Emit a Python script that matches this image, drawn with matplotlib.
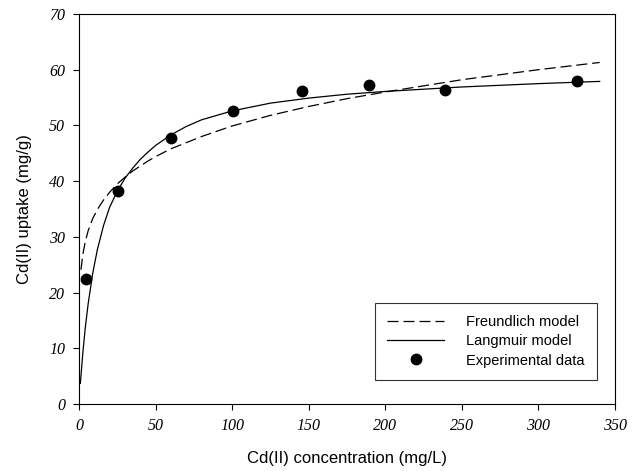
import matplotlib
matplotlib.use("Agg")
import matplotlib.pyplot as plt

# experimental points
conc_exp = [4.6, 25.3, 60.3, 100.6, 145.8, 189.4, 239.0, 325.5]
uptake_exp = [22.4, 38.3, 47.8, 52.5, 56.2, 57.2, 56.3, 58.0]

# model curves
conc_freundlich = [1.3, 2.5, 4, 6, 9, 12, 16, 20, 25, 30, 35, 40, 45, 50, 60,
                   70, 80, 100, 125, 150, 175, 200, 250, 300, 340]
uptake_freundlich = [24.1, 26.8, 29.0, 31.1, 33.3, 34.9, 36.6, 38.0, 39.5, 40.7,
                     41.8, 42.7, 43.6, 44.4, 45.8, 46.9, 48.0, 49.9, 51.8, 53.4,
                     54.8, 56.0, 58.2, 60.0, 61.3]

conc_langmuir = [0.9, 2.5, 4, 6, 9, 12, 16, 20, 25, 30, 35, 40, 45, 50, 60,
                 70, 80, 100, 125, 150, 175, 200, 250, 300, 340]
uptake_langmuir = [3.7, 9.1, 13.4, 18.0, 23.5, 27.7, 32.0, 35.3, 38.2, 40.5,
                   42.3, 43.9, 45.2, 46.4, 48.3, 49.8, 51.0, 52.6, 54.0, 54.9,
                   55.6, 56.1, 56.9, 57.5, 57.9]

x_ticks = [0, 50, 100, 150, 200, 250, 300, 350]
y_ticks = [0, 10, 20, 30, 40, 50, 60, 70]

plt.rcParams["lines.scale_dashes"] = False

fig = plt.figure(figsize=(6.4, 4.71), dpi=100)
ax = fig.add_axes([0.1234, 0.1423, 0.8375, 0.828])

ax.plot(conc_freundlich, uptake_freundlich, color="black", lw=0.9,
        dashes=(8, 3.5), label="Freundlich model")
ax.plot(conc_langmuir, uptake_langmuir, color="black", lw=0.9,
        label="Langmuir model")
ax.plot(conc_exp, uptake_exp, "o", color="black", ms=7.5, ls="none",
        label="Experimental data")

ax.set_xlim(0, 350)
ax.set_ylim(0, 70)
ax.set_xticks(x_ticks)
ax.set_yticks(y_ticks)
ax.tick_params(direction="out", length=4, width=0.8, top=False, right=False,
               pad=6)
for lbl in ax.get_xticklabels() + ax.get_yticklabels():
    lbl.set_family("Liberation Serif")
    lbl.set_style("italic")
    lbl.set_fontsize(11.5)
for s in ax.spines.values():
    s.set_linewidth(0.8)

ax.set_xlabel("Cd(II) concentration (mg/L)", family="Liberation Sans",
              fontsize=12, labelpad=12)
ax.set_ylabel("Cd(II) uptake (mg/g)", family="Liberation Sans",
              fontsize=12, labelpad=12)

leg = ax.legend(loc="lower right", bbox_to_anchor=(0.966, 0.0615),
                borderaxespad=0, frameon=True, fancybox=False,
                prop={"family": "Liberation Sans", "size": 10.5},
                handlelength=3.9, handletextpad=1.5, labelspacing=0.35,
                borderpad=0.85)
leg.get_frame().set_edgecolor("black")
leg.get_frame().set_linewidth(0.8)

fig.savefig("out.png", dpi=100)
